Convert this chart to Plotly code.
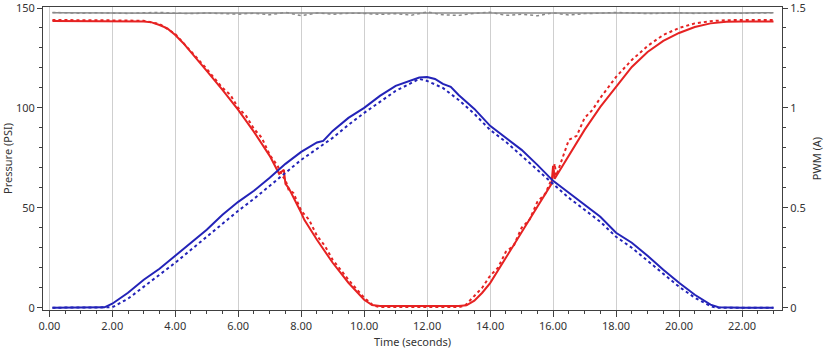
import plotly.graph_objects as go

# ---- data ----
# Red solid: pressure (PSI)
red_solid_t = [0.1, 1, 2, 3, 3.25, 3.5, 3.75, 4.0, 4.25, 4.5, 5.0, 5.5, 6.0, 6.5, 7.0, 7.3, 7.45, 7.5, 7.6,
               8.0, 8.1, 8.5, 9.0, 9.5, 10.0, 10.25, 10.5, 11, 12, 13, 13.25, 13.5, 13.75, 14, 14.5, 15, 15.5,
               15.95, 16.0, 16.05, 16.5, 17, 17.5, 18, 18.5, 19, 19.5, 20, 20.5, 21, 21.5, 22, 23]
red_solid_v = [143.5, 143.5, 143.5, 143.3, 142.8, 141.5, 139.8, 136.5, 132.5, 128, 118.5, 109, 99, 88, 76, 67, 69, 62, 60,
               47.5, 44, 34, 22.5, 12.5, 4, 1.3, 0.8, 0.8, 0.8, 0.9, 1.2, 3.5, 7.5, 12.3, 25, 37.5, 50.5,
               62, 71, 64.5, 76, 89, 100.5, 110.5, 120.5, 128, 133.5, 137.5, 140.5, 142.3, 143.1, 143.3, 143.3]

# Red dotted: pressure command (PSI)
red_dot_t = [0.1, 1, 2, 3, 3.5, 4, 4.5, 5, 5.5, 5.75, 6, 6.25, 6.5, 6.75, 7, 7.25, 7.4, 7.5, 7.6, 7.75, 8, 8.25,
             8.5, 8.75, 9, 9.5, 10, 10.3, 10.5, 12, 13, 13.2, 13.5, 13.75, 14, 14.25, 14.5, 14.75, 15, 15.25,
             15.5, 15.75, 16, 16.05, 16.1, 16.25, 16.5, 16.75, 17, 17.25, 17.5, 18, 18.5, 19, 19.5, 20, 20.5,
             21, 21.5, 22, 23]
red_dot_v = [144, 144, 143.8, 143.6, 142, 137, 128.5, 119.5, 110, 106.5, 100, 96, 89.5, 85, 76.5, 71, 66, 64, 59,
             57.5, 48.5, 44, 36, 31, 24, 14, 5, 1, 0.3, 0.3, 0.3, 1, 6, 10, 16, 20, 28, 31, 40, 44,
             53, 57, 66, 72, 66, 73, 84, 86, 95, 99, 105, 115.5, 124, 131, 136.5, 140, 142.3,
             143.4, 143.9, 144, 144]

# Blue solid: PWM current (A)
blue_solid_t = [0.1, 1, 1.6, 1.75, 2, 2.5, 3, 3.5, 4, 4.5, 5, 5.5, 6, 6.5, 7, 7.5, 8, 8.5, 8.7, 9, 9.5, 10,
                10.5, 11, 11.5, 11.75, 12, 12.25, 12.5, 12.75, 13, 13.5, 14, 14.5, 15, 15.5, 16, 16.5, 17, 17.5,
                18, 18.5, 19, 19.5, 20, 20.5, 21, 21.25, 22, 23]
blue_solid_a = [0, 0, 0, 0.002, 0.02, 0.075, 0.14, 0.195, 0.26, 0.325, 0.39, 0.465, 0.53, 0.585, 0.65, 0.72, 0.78,
                0.827, 0.835, 0.885, 0.95, 1.0, 1.06, 1.11, 1.14, 1.152, 1.155, 1.145, 1.12, 1.105, 1.065, 0.995,
                0.91, 0.85, 0.79, 0.715, 0.635, 0.575, 0.515, 0.455, 0.375, 0.325, 0.26, 0.19, 0.125, 0.065,
                0.015, 0.002, 0, 0]

# Blue dotted: PWM command (A)
blue_dot_t = [0.1, 1, 1.9, 2, 2.5, 3, 3.5, 4, 4.5, 5, 5.5, 6, 6.5, 7, 7.5, 8, 8.5, 9, 9.5, 10, 10.5, 11, 11.5,
              11.75, 12, 12.5, 13, 13.5, 14, 14.5, 15, 15.5, 16, 16.5, 17, 17.5, 18, 18.5, 19, 19.5, 20, 20.5,
              21, 21.2, 23]
blue_dot_a = [0, 0, 0, 0.002, 0.045, 0.105, 0.165, 0.225, 0.29, 0.355, 0.42, 0.485, 0.545, 0.61, 0.675, 0.74,
              0.795, 0.85, 0.915, 0.975, 1.03, 1.085, 1.125, 1.145, 1.135, 1.10, 1.04, 0.97, 0.89, 0.83, 0.76,
              0.69, 0.615, 0.55, 0.49, 0.43, 0.355, 0.30, 0.235, 0.17, 0.105, 0.05, 0.008, 0, 0]

# Gray: supply pressure (PSI)
gray_solid_t = [0.1, 1, 2, 3, 4, 5, 6, 7, 8, 9, 10, 11, 12, 13, 14, 15, 16, 17, 18, 19, 20, 21, 22, 23]
gray_solid_v = [147.6, 147.5, 147.6, 147.5, 147.4, 147.5, 147.5, 147.4, 147.3, 147.5, 147.4, 147.3, 147.4,
                147.2, 147.4, 147.3, 147.4, 147.5, 147.4, 147.5, 147.5, 147.5, 147.5, 147.6]
gray_dot_t = [0.1, 0.5, 1, 1.5, 2, 2.5, 3, 3.5, 4, 4.5, 5, 5.5, 6, 6.5, 7, 7.5, 8, 8.5, 9, 9.5, 10, 10.5, 11,
              11.5, 12, 12.5, 13, 13.5, 14, 14.5, 15, 15.5, 16, 16.5, 17, 17.5, 18, 18.5, 19, 19.5, 20, 20.5,
              21, 21.5, 22, 22.5, 23]
gray_dot_v = [147.8, 147.6, 147.4, 147.6, 147.5, 147.3, 147.6, 147.8, 147.4, 147.2, 147.5, 147.3, 146.9, 147.4,
              146.6, 147.8, 146.2, 147.5, 146.9, 147.4, 147.3, 146.8, 147.2, 146.4, 148.0, 146.6, 146.3, 147.3,
              147.9, 146.3, 146.9, 146.1, 147.6, 146.5, 147.2, 147.4, 147.8, 147.5, 147.2, 147.4, 147.6, 147.3,
              147.5, 147.6, 147.4, 147.5, 147.6]

x_ticks = [0, 2, 4, 6, 8, 10, 12, 14, 16, 18, 20, 22]

RED = "#e62222"
BLUE = "#2323b8"
GRAY = "#8a8a8a"

fig = go.Figure()
fig.add_trace(go.Scatter(x=gray_dot_t, y=gray_dot_v, mode="lines",
                         line=dict(color=GRAY, width=1.5, dash="dot"), yaxis="y"))
fig.add_trace(go.Scatter(x=gray_solid_t, y=gray_solid_v, mode="lines",
                         line=dict(color=GRAY, width=1.5), yaxis="y"))
fig.add_trace(go.Scatter(x=red_dot_t, y=red_dot_v, mode="lines",
                         line=dict(color=RED, width=2, dash="dot"), yaxis="y"))
fig.add_trace(go.Scatter(x=red_solid_t, y=red_solid_v, mode="lines",
                         line=dict(color=RED, width=2), yaxis="y"))
fig.add_trace(go.Scatter(x=blue_dot_t, y=blue_dot_a, mode="lines",
                         line=dict(color=BLUE, width=2, dash="dot"), yaxis="y2"))
fig.add_trace(go.Scatter(x=blue_solid_t, y=blue_solid_a, mode="lines",
                         line=dict(color=BLUE, width=2), yaxis="y2"))

font = dict(family="Noto Sans, Open Sans, sans-serif", size=11, color="#333333")
axis_common = dict(showline=True, linecolor="#404040", linewidth=1, ticks="outside",
                   tickcolor="#404040", tickfont=font, zeroline=False, ticklabeloverflow="allow")

fig.update_layout(
    width=826, height=356,
    margin=dict(l=43, r=44, t=7, b=46),
    paper_bgcolor="white", plot_bgcolor="white",
    showlegend=False,
    font=font,
    xaxis=dict(range=[-0.2, 23.27], tickvals=x_ticks, tickformat=".2f",
               showgrid=True, gridcolor="#cfcfcf", gridwidth=1, ticklen=6,
               minor=dict(dtick=0.5, ticks="outside", ticklen=3, tickcolor="#404040", showgrid=False),
               mirror=True, automargin=False,
               title=dict(text="Time (seconds)", font=font, standoff=6),
               **axis_common),
    yaxis=dict(range=[-1.15, 150.5], tickvals=[0, 50, 100, 150], showgrid=False, ticklen=5,
               minor=dict(dtick=10, ticks="outside", ticklen=3, tickcolor="#404040", showgrid=False),
               automargin=False,
               title=dict(text="Pressure (PSI)", font=font, standoff=8),
               **axis_common),
    yaxis2=dict(range=[-0.0115, 1.505], tickvals=[0, 0.5, 1, 1.5], ticktext=["0", "0.5", "1", "1.5"],
                overlaying="y", side="right", showgrid=False, ticklen=5,
                minor=dict(dtick=0.1, ticks="outside", ticklen=3, tickcolor="#404040", showgrid=False),
                automargin=False,
                title=dict(text="PWM (A)", font=font, standoff=8),
                **axis_common),
)

fig.write_html("out.html", config={"displayModeBar": False},
               post_script="document.body.style.margin='0';")
